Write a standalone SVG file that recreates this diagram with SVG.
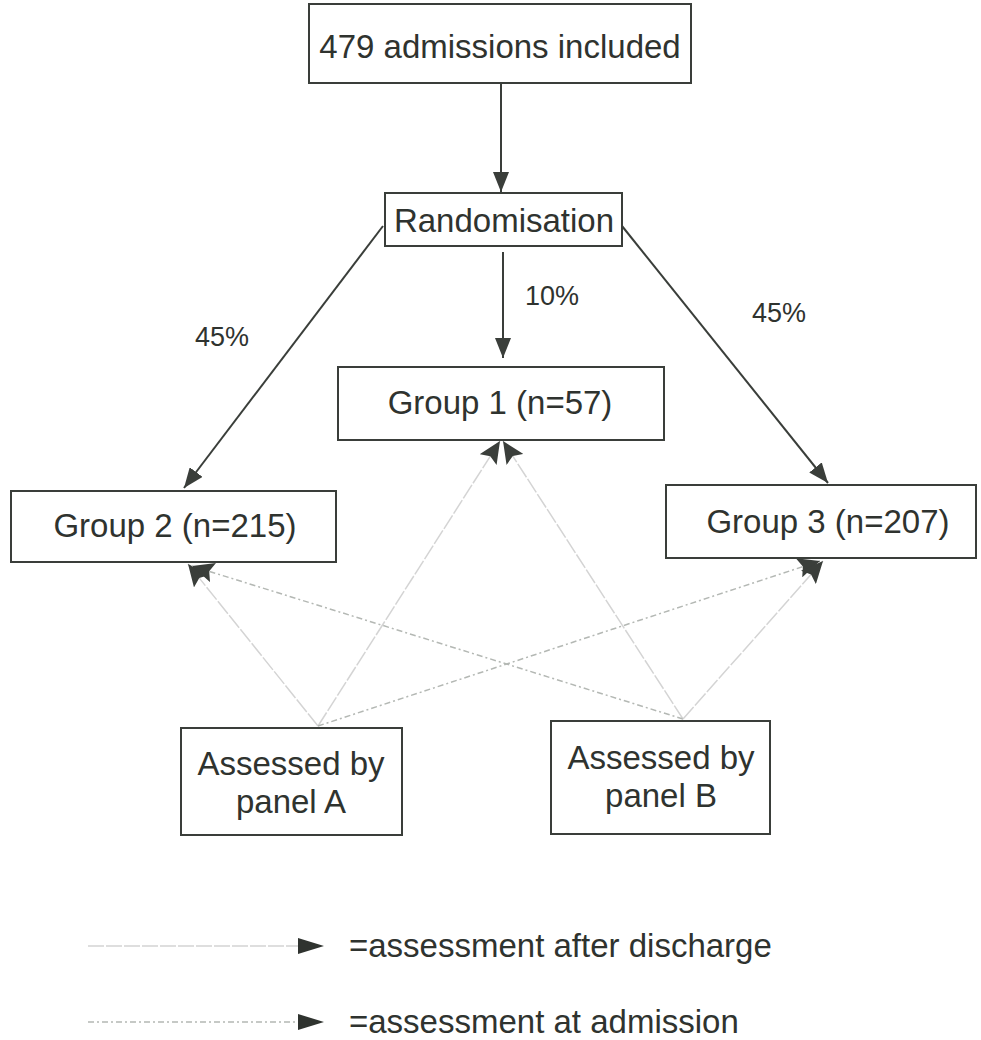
<svg xmlns="http://www.w3.org/2000/svg" width="981" height="1040" viewBox="0 0 981 1040">
<style>
text{font-family:"Liberation Sans",Arial,sans-serif;fill:#2f332f;text-anchor:middle}
.box{fill:#fff;stroke:#3a3e3a;stroke-width:2}
.main{stroke:#3a3e3a;stroke-width:2;fill:none}
.dis{stroke:#d4d4d4;stroke-width:1.5;fill:none;stroke-dasharray:16 2}
.adm{stroke:#b4b8b4;stroke-width:1.5;fill:none;stroke-dasharray:6 3 2 3}
.pct{font-size:27px}
.lbl{font-size:33px}
</style>
<defs>
<marker id="ah" markerUnits="userSpaceOnUse" markerWidth="22" markerHeight="16" refX="20" refY="8" orient="auto"><path d="M0,0 L20,8 L0,16 Z" fill="#3a3e3a"/></marker>
<marker id="ah2" markerUnits="userSpaceOnUse" markerWidth="24" markerHeight="20" refX="22" refY="10" orient="auto"><path d="M0,0 L22,10 L0,20 L4,10 Z" fill="#3a3e3a"/></marker>
</defs>
<g id="connectors">
<line class="main" x1="501" y1="84" x2="501" y2="192" marker-end="url(#ah)"/>
<line class="main" x1="503" y1="252" x2="503" y2="358" marker-end="url(#ah)"/>
<line class="main" x1="383" y1="226" x2="184" y2="488" marker-end="url(#ah)"/>
<line class="main" x1="622" y1="226" x2="828" y2="483" marker-end="url(#ah)"/>
<line class="dis" x1="318" y1="726" x2="500" y2="441" marker-end="url(#ah2)"/>
<line class="dis" x1="683" y1="719" x2="503" y2="441" marker-end="url(#ah2)"/>
<line class="dis" x1="318" y1="726" x2="188" y2="564" marker-end="url(#ah2)"/>
<line class="adm" x1="683" y1="719" x2="192" y2="566" marker-end="url(#ah2)"/>
<line class="adm" x1="318" y1="726" x2="820" y2="561" marker-end="url(#ah2)"/>
<line class="dis" x1="683" y1="719" x2="823" y2="561" marker-end="url(#ah2)"/>
<text class="pct" x="222" y="346">45%</text>
<text class="pct" x="552" y="305">10%</text>
<text class="pct" x="779" y="322">45%</text>
</g>
<g id="n-admissions"><rect class="box" x="309" y="4" width="382" height="79"/><text class="lbl" x="500" y="58">479 admissions included</text></g>
<g id="n-randomisation"><rect class="box" x="385" y="193" width="237" height="53"/><text class="lbl" x="504" y="232">Randomisation</text></g>
<g id="n-group1"><rect class="box" x="338" y="367" width="326" height="73"/><text class="lbl" x="500" y="414">Group 1 (n=57)</text></g>
<g id="n-group2"><rect class="box" x="11" y="491" width="325" height="71"/><text class="lbl" x="175" y="537">Group 2 (n=215)</text></g>
<g id="n-group3"><rect class="box" x="666" y="485" width="310" height="73"/><text class="lbl" x="828" y="533">Group 3 (n=207)</text></g>
<g id="n-panelA"><rect class="box" x="181" y="728" width="221" height="107"/><text class="lbl" x="291" y="775">Assessed by</text><text class="lbl" x="291" y="813">panel A</text></g>
<g id="n-panelB"><rect class="box" x="551" y="721" width="219" height="113"/><text class="lbl" x="661" y="769">Assessed by</text><text class="lbl" x="661" y="807">panel B</text></g>
<g id="legend">
<line class="dis" x1="88" y1="946" x2="300" y2="946"/>
<path d="M298,938 L324,946 L298,954 Z" fill="#2f332f"/>
<text class="lbl" x="349" y="957" style="text-anchor:start">=assessment after discharge</text>
<line class="adm" x1="88" y1="1022" x2="300" y2="1022"/>
<path d="M298,1014 L324,1022 L298,1030 Z" fill="#2f332f"/>
<text class="lbl" x="349" y="1033" style="text-anchor:start">=assessment at admission</text>
</g>
</svg>
